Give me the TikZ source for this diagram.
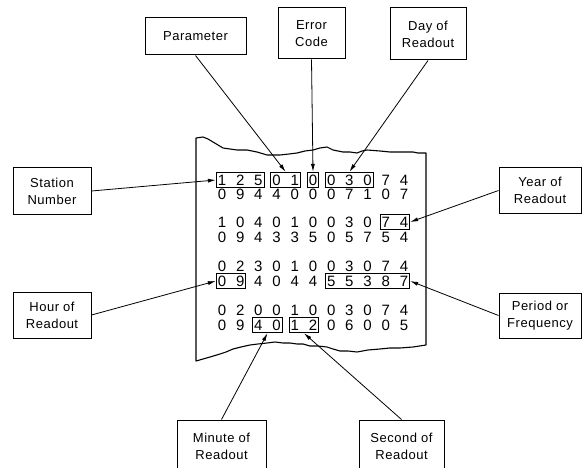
\documentclass[tikz,border=0pt]{standalone}
\usepackage{fontspec}
\newfontfamily\lblfont[LetterSpace=4]{Liberation Sans}
\newfontfamily\digfont{Liberation Sans}
\usetikzlibrary{arrows.meta,chains,fit,positioning}

\tikzset{
  lbl/.style={draw,line width=1pt,align=center,inner sep=0pt,
    font=\lblfont\fontsize{13}{17}\selectfont},
  digit/.style={on chain,inner sep=0pt,minimum width=9pt,text height=11pt,text depth=0pt,
    font=\digfont\fontsize{15}{15}\selectfont},
  digbox/.style={draw,line width=0.9pt,inner xsep=1pt,inner ysep=2pt},
  pointer/.style={line width=0.8pt,-{Latex[length=8pt,width=4pt]}},
  paper/.style={line width=1.1pt,line join=round}
}

\begin{document}
\begin{tikzpicture}[x=1pt,y=-1pt]
\path[fill=white,use as bounding box] (0,0) rectangle (584,468);

\draw[paper] (196,138) -- (203,137) -- (208,139) -- (213,142) -- (223,148) -- (230,149) -- (237,150)
  -- (247,150) -- (257,152) -- (267,155) -- (280,155) -- (289,154) -- (297,153) -- (305,151)
  -- (313,150) -- (320,148) -- (327,147) -- (333,150) -- (338,151) -- (343,152) -- (350,152)
  -- (357,153) -- (362,151) -- (367,150) -- (380,151) -- (390,152) -- (400,152) -- (413,152)
  -- (418,153) -- (426,153) -- (426,345) -- (413,347) -- (400,348) -- (390,348) -- (380,349)
  -- (368,350) -- (357,352) -- (348,351) -- (340,351) -- (333,349) -- (327,347) -- (318,346)
  -- (310,346) -- (303,344) -- (297,344) -- (290,343) -- (283,343) -- (275,342) -- (267,343)
  -- (258,344) -- (250,345) -- (241,347) -- (233,349) -- (226,352) -- (220,354) -- (210,357)
  -- (203,359) -- (196,361) -- cycle;

\foreach \row/\yy/\digs in {a/180/{1,2,5,0,1,0,0,3,0,7,4}, b/194/{0,9,4,4,0,0,0,7,1,0,7},
    c/222/{1,0,4,0,1,0,0,3,0,7,4}, d/237/{0,9,4,3,3,5,0,5,7,5,4},
    e/266/{0,2,3,0,1,0,0,3,0,7,4}, f/281/{0,9,4,0,4,4,5,5,3,8,7},
    g/310/{0,2,0,0,1,0,0,3,0,7,4}, h/325/{0,9,4,0,1,2,0,6,0,0,5}}{
\begin{scope}[shift={(222,\yy)},start chain=going right,node distance=8.8pt]
\foreach \dig [count=\i] in \digs
  \node[digit] (\row\i) {\dig};
\end{scope}
}

\node[digbox,fit=(a1)(a3)] (stnbox) {};
\node[digbox,fit=(a4)(a5)] (parbox) {};
\node[digbox,fit=(a6)] (errbox) {};
\node[digbox,fit=(a7)(a9)] (daybox) {};
\node[digbox,fit=(c10)(c11)] (yearbox) {};
\node[digbox,fit=(f1)(f2)] (hourbox) {};
\node[digbox,fit=(f7)(f11)] (perbox) {};
\node[digbox,fit=(h3)(h4)] (minbox) {};
\node[digbox,fit=(h5)(h6)] (secbox) {};

\node[lbl,minimum width=78pt,minimum height=46pt] (station) at (52,191) {Station\\Number};
\node[lbl,minimum width=101pt,minimum height=37pt] (param) at (195.5,36.5) {Parameter};
\node[lbl,minimum width=67pt,minimum height=51pt] (error) at (311.5,33.5) {Error\\Code};
\node[lbl,minimum width=76pt,minimum height=52pt] (day) at (428,34) {Day of\\Readout};
\node[lbl,minimum width=82pt,minimum height=45pt] (year) at (540,190.5) {Year of\\Readout};
\node[lbl,minimum width=78pt,minimum height=46pt] (hour) at (52,315) {Hour of\\Readout};
\node[lbl,minimum width=82pt,minimum height=45pt] (period) at (540,315.5) {Period or\\Frequency};
\node[lbl,minimum width=89pt,minimum height=53pt] (minute) at (221.5,446.5) {Minute of\\Readout};
\node[lbl,minimum width=85pt,minimum height=53pt] (second) at (401.5,446.5) {Second of\\Readout};

\draw[pointer] (station.east) -- (stnbox.west);
\draw[pointer] (param.south) -- (parbox.north);
\draw[pointer] (error.south) -- (errbox.north);
\draw[pointer] (day.south) -- (daybox.north);
\draw[pointer] (year.west) -- (yearbox.east);
\draw[pointer] (hour.east) -- (hourbox.west);
\draw[pointer] (period.west) -- (perbox.east);
\draw[pointer] (minute.north) -- (minbox.south);
\draw[pointer] (second.north) -- (secbox.south);

\end{tikzpicture}
\end{document}
